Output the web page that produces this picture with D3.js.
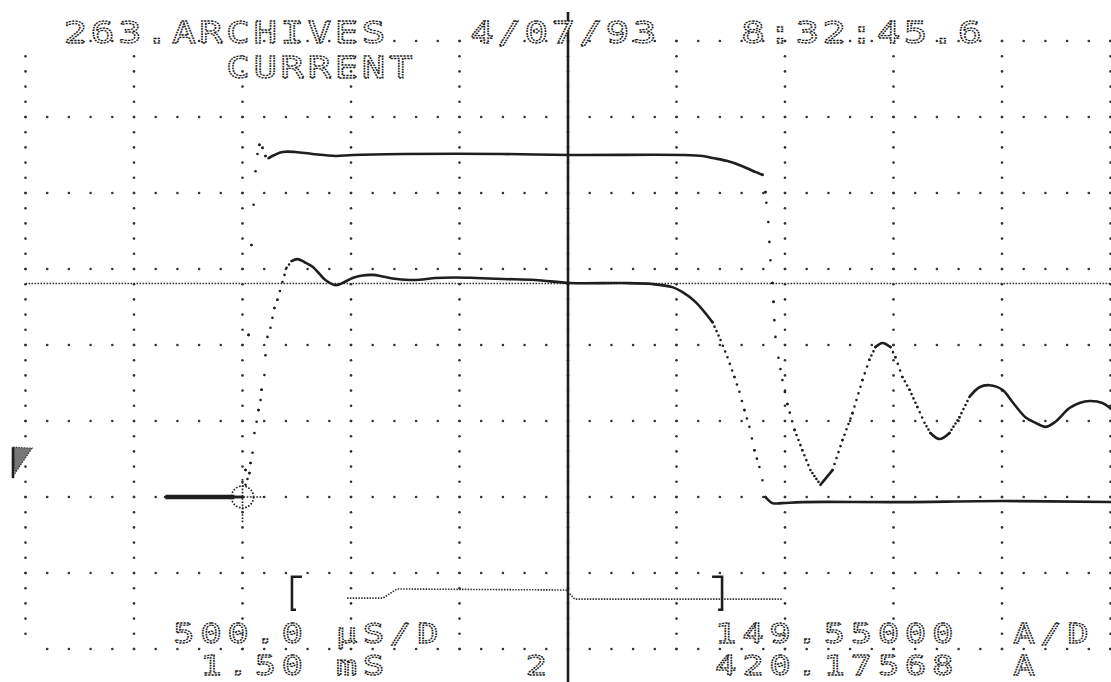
<!DOCTYPE html>
<html>
<head>
<meta charset="utf-8">
<script src="https://cdn.jsdelivr.net/npm/d3@7"></script>
<style>
  body { margin: 0; background: #fff; }
  svg { display: block; }
</style>
</head>
<body>
<svg width="1111" height="682"></svg>
<script>
// scope settings
const usPerDiv = 500;          // 500.0 µS/D
const ampsPerDiv = 149.55;     // 149.55000 A/D
const cursorT = 1500;          // 1.50 mS
const cursorA = 420.17568;     // 420.17568 A
const triggerLevel = 98;

// trace with the overshoot and the slow fall (time in µs from trigger, current in A)
const upperT = [-355, 0, 14, 28, 41, 51, 60, 69, 78, 92, 106, 120, 147, 184, 244, 323, 429, 507, 737, 1198, 1511,
  2028, 2120, 2166, 2235, 2304, 2350, 2373, 2396, 2410, 2414, 2423, 2428, 2433, 2442, 2447, 2451, 2456, 2470, 2488,
  2511, 2544, 2580, 2617, 2663, 2719, 2765, 2811, 2857, 2889, 2917, 2949, 2986, 3009, 3041, 3074, 3110, 3143, 3170,
  3212, 3258, 3304, 3350, 3396, 3442, 3502, 3548, 3608, 3654, 3700, 3746, 3811, 3857, 3903, 3963, 4009];
const upperA = [0, 0, 53, 319, 496, 575, 641, 675, 693, 687, 671, 667, 673, 679, 679, 675, 671, 673, 675, 675, 673,
  673, 671, 667, 661, 651, 642, 638, 634, 600, 579, 541, 502, 466, 421, 384, 348, 315, 274, 230,
  183, 132, 92, 53, 24, 53, 112, 165, 230, 270, 295, 303, 295, 275, 236, 211, 177, 146, 126,
  114, 126, 157, 197, 216, 220, 211, 187, 157, 146, 138, 148, 175, 185, 189, 185, 171];

// trace with the ringing rise and the sharp drop to the floor
const lowerT = [-355, 0, 14, 32, 37, 46, 55, 65, 74, 83, 88, 101, 106, 115, 129, 147, 161, 184, 203, 226, 253, 286,
  323, 355, 382, 429, 470, 507, 553, 599, 645, 691, 770, 829, 889, 982, 1074, 1198, 1350, 1511, 1751, 1889, 1981,
  2028, 2087, 2166, 2203, 2235, 2267, 2290, 2313, 2336, 2359, 2382, 2396, 2410, 2442, 2488, 2580, 3041, 3502, 4009];
const lowerA = [0, 0, 24, 47, 67, 87, 126, 148, 171, 191, 211, 240, 279, 315, 333, 372, 388, 423, 451, 464, 468, 462,
  453, 439, 427, 417, 423, 431, 436, 437, 434, 430, 427, 428, 431, 432, 431, 429, 427, 421, 421, 419, 413,
  403, 384, 344, 309, 275, 236, 207, 171, 138, 92, 59, 33, 0, -12, -12, -10, -10, -8, -10];

// record overview strip under the grid
const overviewT = [482, 647, 712, 1490, 1532, 2491];
const overviewA = [-199, -199, -181, -183, -201, -201];
const bracketT = [228, 2210];
const bracketA = [-157, -222];

// printed text, as [column, text] on the printer's character grid
const headerRow1 = [[0, "263.ARCHIVES"], [15, "4/07/93"], [25, "8:32:45.6"]];
const headerRow2 = [[6, "CURRENT"]];
const footerRow1 = [[4, "500.0"], [10, "µS/D"], [24, "149.55000"], [35, "A/D"]];
const footerRow2 = [[5, "1.50"], [10, "mS"], [17, "2"], [24, "420.17568"], [35, "A"]];

const svg = d3.select("svg");
const ink = "#1e1e1e";

const x = d3.scaleLinear().domain([-2 * usPerDiv, 8 * usPerDiv]).range([25.5, 1110.5]);
const y = d3.scaleLinear().domain([-2 * ampsPerDiv, 6 * ampsPerDiv]).range([649, 41]);

// dotted graticule: major lines drawn as minor-tick dots
const xMajor = d3.range(-2, 9).map(k => k * usPerDiv);
const xMinor = d3.range(-10, 41).map(k => k * usPerDiv / 5);
const yMajor = d3.range(-2, 7).map(k => k * ampsPerDiv);
const yMinor = d3.range(-10, 31).map(k => k * ampsPerDiv / 5);
const dots = [];
xMajor.forEach(t => yMinor.forEach(a => dots.push([t, a])));
yMajor.forEach(a => xMinor.forEach(t => dots.push([t, a])));
// the printer left the outer left corners and the top-left stretch blank
const blank = d => (x(d[0]) < 60 && Math.abs(y(d[1]) - 41) < 1) ||
                   (x(d[0]) < 30 && Math.abs(y(d[1]) - 649) < 1);

svg.append("g")
  .selectAll("circle")
  .data(dots.filter(d => !blank(d)))
  .join("circle")
  .attr("cx", d => x(d[0]))
  .attr("cy", d => y(d[1]))
  .attr("r", 1.3)
  .attr("fill", "#333");

// horizontal cursor
svg.append("line")
  .attr("x1", x(-2 * usPerDiv)).attr("x2", 1111)
  .attr("y1", y(cursorA)).attr("y2", y(cursorA))
  .attr("stroke", "#333").attr("stroke-width", 1.6)
  .attr("stroke-dasharray", "1.6 1.4");

// vertical cursor
svg.append("line")
  .attr("x1", x(cursorT)).attr("x2", x(cursorT))
  .attr("y1", 12).attr("y2", 682)
  .attr("stroke", ink).attr("stroke-width", 2.6);

// traces: slow parts print as a solid line, fast parts as spread-out sample dots
function splitTrace(T, A) {
  const pts = T.map((t, i) => [x(t), y(A[i])]);
  const dotted = [], solidRuns = [];
  let run = [pts[0]];
  for (let i = 1; i < pts.length; i++) {
    const [x0, y0] = pts[i - 1], [x1, y1] = pts[i];
    const len = Math.hypot(x1 - x0, y1 - y0);
    const n = Math.max(1, Math.round(Math.abs(x1 - x0) / 2.2));
    const gap = len / n;
    if (gap > 3.4) {
      dotted.push({ x0, y0, x1, y1, gap });
      if (run.length > 1) solidRuns.push(run);
      run = [pts[i]];
    } else {
      run.push(pts[i]);
    }
  }
  if (run.length > 1) solidRuns.push(run);
  return { dotted, solidRuns };
}

const smooth = d3.line().curve(d3.curveCatmullRom.alpha(0.5));

[[upperT, upperA], [lowerT, lowerA]].forEach(([T, A]) => {
  const { dotted, solidRuns } = splitTrace(T, A);
  const g = svg.append("g");
  g.selectAll("path")
    .data(solidRuns)
    .join("path")
    .attr("d", smooth)
    .attr("fill", "none")
    .attr("stroke", ink)
    .attr("stroke-width", 2.6)
    .attr("stroke-linecap", "round")
    .attr("stroke-linejoin", "round");
  g.selectAll("line")
    .data(dotted)
    .join("line")
    .attr("x1", d => d.x0).attr("y1", d => d.y0)
    .attr("x2", d => d.x1).attr("y2", d => d.y1)
    .attr("stroke", ink)
    .attr("stroke-width", 2.6)
    .attr("stroke-linecap", "round")
    .attr("stroke-dasharray", d => `0 ${d.gap.toFixed(2)}`);
});

// pre-trigger part where both traces sit on zero
svg.append("line")
  .attr("x1", x(upperT[0])).attr("x2", x(0) - 8)
  .attr("y1", y(0)).attr("y2", y(0))
  .attr("stroke", ink).attr("stroke-width", 4.5);

// trigger crosshair
const cx0 = x(0), cy0 = y(0);
svg.append("circle")
  .attr("cx", cx0).attr("cy", cy0).attr("r", 11)
  .attr("fill", "none").attr("stroke", "#222").attr("stroke-width", 1.7)
  .attr("stroke-dasharray", "1.6 1.6");
svg.append("path")
  .attr("d", `M${cx0 - 15},${cy0}H${cx0 + 22}M${cx0},${cy0 - 18}V${cy0 + 26}`)
  .attr("fill", "none").attr("stroke", "#222").attr("stroke-width", 1.7)
  .attr("stroke-dasharray", "1.6 1.6");

// trigger level flag on the left edge
const fy = y(triggerLevel);
svg.append("path")
  .attr("d", `M13,${fy}L32,${fy + 1}L15,${fy + 26}Z`)
  .attr("fill", "#777").attr("stroke", "#333").attr("stroke-width", 1.2)
  .attr("stroke-dasharray", "1.5 1.2");
svg.append("line")
  .attr("x1", 13).attr("x2", 13).attr("y1", fy).attr("y2", fy + 31)
  .attr("stroke", ink).attr("stroke-width", 2.6);

// record overview strip and its brackets
svg.append("path")
  .datum(overviewT.map((t, i) => [t, overviewA[i]]))
  .attr("d", d3.line().x(d => x(d[0])).y(d => y(d[1])))
  .attr("fill", "none").attr("stroke", "#333").attr("stroke-width", 1.6)
  .attr("stroke-dasharray", "1.5 1.3");

bracketT.forEach((t, i) => {
  const bx = x(t), top = y(bracketA[0]), bot = y(bracketA[1]);
  const s = i === 0 ? 1 : -1;
  svg.append("path")
    .attr("d", `M${bx + s * 10},${top}H${bx}V${bot}H${bx + s * 4}`)
    .attr("fill", "none").attr("stroke", ink).attr("stroke-width", 2.6);
});

// dot-matrix style text
const pitch = 27.1, left = 65, sx = 1.3;
function printRow(pieces, baseline, size) {
  pieces.forEach(([col, str]) => {
    const xs = Array.from(str).map((c, i) => ((left + pitch * (col + i) + 10.5) / sx).toFixed(2));
    svg.append("text")
      .attr("transform", `scale(${sx},1)`)
      .attr("x", xs.join(" "))
      .attr("y", baseline)
      .attr("text-anchor", "middle")
      .style("font-family", "'DejaVu Sans Mono', monospace")
      .style("font-size", size + "px")
      .attr("fill", "#fff")
      .attr("stroke", "#1c1c1c")
      .attr("stroke-width", 1.5)
      .attr("vector-effect", "non-scaling-stroke")
      .attr("stroke-dasharray", "2 1")
      .text(str);
  });
}

printRow(headerRow1, 43, 30);
printRow(headerRow2, 78, 30);
printRow(footerRow1, 643, 27);
printRow(footerRow2, 675, 27);
</script>
</body>
</html>
